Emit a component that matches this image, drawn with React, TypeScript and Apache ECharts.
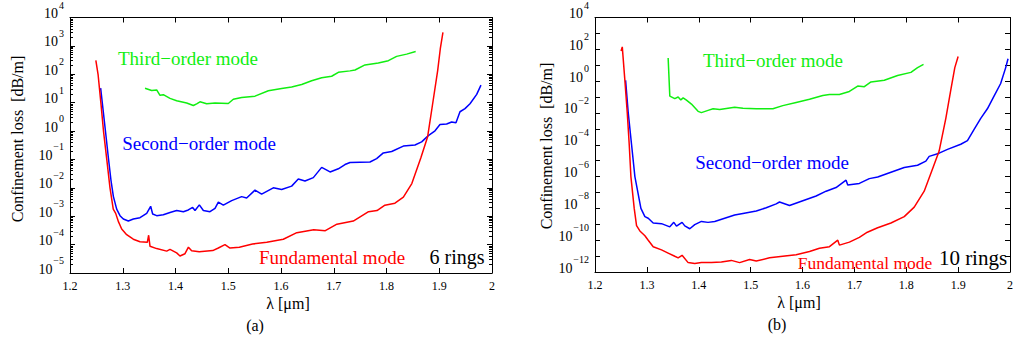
import React, { useEffect, useRef } from 'react';
import * as echarts from 'echarts';

// ---------- Panel (a): 6 rings ----------
const aFundLambda = [1.249, 1.2532, 1.2585, 1.2635, 1.2697, 1.2758, 1.282, 1.2866, 1.292, 1.298, 1.3074, 1.32, 1.3327, 1.3466, 1.3491, 1.3517, 1.3643, 1.3833, 1.3896, 1.4022, 1.4085, 1.418, 1.4245, 1.4306, 1.445, 1.4706, 1.4812, 1.4938, 1.5033, 1.521, 1.546, 1.573, 1.6044, 1.63, 1.662, 1.684, 1.706, 1.737, 1.766, 1.782, 1.797, 1.816, 1.832, 1.848, 1.865, 1.878, 1.887, 1.897, 1.902, 1.907];
const aFundLog = [2.49, 2.0, 1.0, 0.0, -1.0, -2.0, -2.75, -2.9, -3.2, -3.45, -3.65, -3.81, -3.9, -3.92, -3.67, -4.06, -4.14, -4.23, -4.17, -4.29, -4.4, -4.32, -4.09, -4.22, -4.25, -4.21, -4.12, -4.0, -4.12, -4.09, -3.98, -3.92, -3.81, -3.58, -3.48, -3.51, -3.28, -3.17, -2.84, -2.8, -2.61, -2.54, -2.33, -1.85, -0.95, -0.2, 0.9, 2.13, 2.9, 3.48];

const aSecLambda = [1.2581, 1.2633, 1.2684, 1.2728, 1.2778, 1.2822, 1.2885, 1.2948, 1.3011, 1.3106, 1.3201, 1.3327, 1.3454, 1.3529, 1.3567, 1.3643, 1.3769, 1.3896, 1.4022, 1.4149, 1.4243, 1.4325, 1.437, 1.4452, 1.4528, 1.4654, 1.4749, 1.4812, 1.4907, 1.5065, 1.5254, 1.5349, 1.5507, 1.5633, 1.5854, 1.6012, 1.6202, 1.6328, 1.6455, 1.6613, 1.6771, 1.693, 1.7087, 1.7213, 1.7308, 1.7687, 1.7813, 1.794, 1.8098, 1.8319, 1.854, 1.8666, 1.8793, 1.892, 1.9014, 1.914, 1.9235, 1.9317, 1.9393, 1.9488, 1.9583, 1.971, 1.9791];
const aSecLog = [1.51, 0.65, -0.2, -0.95, -1.75, -2.3, -2.75, -2.98, -3.1, -3.17, -3.1, -3.05, -2.9, -2.65, -2.92, -2.98, -2.95, -2.87, -2.8, -2.84, -2.78, -2.69, -2.8, -2.6, -2.8, -2.84, -2.72, -2.5, -2.61, -2.45, -2.31, -2.36, -2.08, -2.22, -2.0, -2.06, -1.94, -1.69, -1.76, -1.64, -1.28, -1.44, -1.33, -1.18, -1.11, -1.09, -0.97, -0.77, -0.72, -0.53, -0.49, -0.38, -0.16, 0.01, 0.23, 0.25, 0.32, 0.29, 0.68, 0.79, 0.96, 1.29, 1.62];

const aThirdLambda = [1.3422, 1.3548, 1.3643, 1.3706, 1.3769, 1.3896, 1.4022, 1.4212, 1.4338, 1.4401, 1.4464, 1.4591, 1.4749, 1.5001, 1.5096, 1.5254, 1.5507, 1.576, 1.6012, 1.6202, 1.6392, 1.6581, 1.6771, 1.696, 1.7087, 1.7308, 1.7403, 1.7592, 1.7845, 1.8035, 1.8192, 1.8382, 1.8553];
const aThirdLog = [1.51, 1.43, 1.45, 1.26, 1.28, 1.15, 1.07, 0.99, 0.9, 0.96, 1.03, 0.96, 0.99, 0.97, 1.12, 1.18, 1.23, 1.42, 1.5, 1.55, 1.64, 1.77, 1.88, 1.93, 2.07, 2.12, 2.15, 2.33, 2.4, 2.48, 2.63, 2.71, 2.8];

// ---------- Panel (b): 10 rings ----------
const bFundLambda = [1.2502, 1.2526, 1.2577, 1.2622, 1.266, 1.2692, 1.2756, 1.2801, 1.2865, 1.2962, 1.3026, 1.3122, 1.3282, 1.341, 1.3538, 1.3603, 1.3679, 1.3795, 1.3923, 1.4051, 1.4244, 1.4436, 1.4628, 1.4788, 1.498, 1.5109, 1.5365, 1.562, 1.5878, 1.6135, 1.6327, 1.652, 1.668, 1.6712, 1.6904, 1.7096, 1.725, 1.7449, 1.7705, 1.7961, 1.8154, 1.8346, 1.8506, 1.8634, 1.8763, 1.8859, 1.8936, 1.9];
const bFundLog = [1.9, 2.15, 0.0, -2.0, -4.0, -6.0, -8.0, -9.08, -9.42, -9.72, -10.0, -10.41, -10.61, -10.81, -11.01, -11.11, -10.95, -11.41, -11.47, -11.41, -11.41, -11.37, -11.27, -11.41, -11.21, -11.31, -11.11, -11.01, -10.91, -10.71, -10.51, -10.41, -10.0, -10.31, -10.12, -9.82, -9.5, -9.22, -8.92, -8.52, -7.92, -6.92, -5.53, -4.4, -2.34, -0.55, 0.85, 1.55];

const bSecLambda = [1.259, 1.2641, 1.2705, 1.2769, 1.2885, 1.2962, 1.3026, 1.3122, 1.3282, 1.3442, 1.3519, 1.3571, 1.3679, 1.3731, 1.3827, 1.3923, 1.4051, 1.4179, 1.4308, 1.45, 1.4692, 1.4852, 1.5109, 1.5301, 1.5493, 1.5557, 1.575, 1.6006, 1.6263, 1.6455, 1.6647, 1.684, 1.6872, 1.7096, 1.7288, 1.7449, 1.7705, 1.7961, 1.8218, 1.8378, 1.8442, 1.8634, 1.8795, 1.9051, 1.918, 1.9308, 1.9436, 1.9564, 1.9692, 1.982, 1.9917, 1.9962];
const bSecLog = [0.05, -2.0, -4.0, -6.0, -8.0, -8.52, -8.62, -8.92, -8.96, -9.16, -8.88, -9.12, -8.88, -9.1, -9.28, -9.02, -8.82, -8.88, -8.82, -8.62, -8.42, -8.32, -8.16, -7.96, -7.72, -7.6, -7.82, -7.52, -7.22, -6.92, -6.69, -6.23, -6.53, -6.43, -6.13, -6.03, -5.73, -5.43, -5.29, -5.03, -4.73, -4.53, -4.29, -3.97, -3.74, -3.04, -2.34, -1.74, -0.94, -0.15, 0.85, 1.41];

const bThirdLambda = [1.341, 1.3442, 1.3538, 1.3603, 1.3654, 1.3699, 1.3763, 1.3859, 1.3987, 1.4051, 1.4179, 1.4276, 1.4404, 1.4564, 1.4692, 1.4852, 1.5109, 1.5429, 1.562, 1.5878, 1.6135, 1.6391, 1.652, 1.6711, 1.6904, 1.7064, 1.7192, 1.732, 1.7577, 1.7833, 1.809, 1.8218, 1.8333];
const bThirdLog = [1.45, -0.94, -1.1, -1.0, -1.18, -1.05, -1.2, -1.44, -1.9, -1.98, -1.84, -1.74, -1.78, -1.7, -1.64, -1.7, -1.74, -1.74, -1.54, -1.34, -1.14, -0.9, -0.84, -0.84, -0.65, -0.31, -0.35, -0.05, 0.05, 0.35, 0.55, 0.85, 1.05];

const modeNames = ['Fundamental mode', 'Second\u2212order mode', 'Third\u2212order mode'];
const modeColors = ['#ff0000', '#0000ff', '#11ee11'];
const panelNames = ['(a)', '(b)'];
const ringLabels = ['6 rings', '10 rings'];
const xAxisTitle = '\u03bb [\u03bcm]';
const yAxisTitle = 'Confinement loss  [dB/m]';

const FONT = "'Liberation Serif', serif";

const pairs = (xs: number[], ls: number[]) => xs.map((x, i) => [x, Math.pow(10, ls[i])]);

const supLabel = (v: number, onlyEven: boolean) => {
  const e = Math.round(Math.log10(v));
  if (onlyEven && e % 2 !== 0) return '';
  const es = e < 0 ? '\u2212' + Math.abs(e) : String(e);
  return `{b|10}{s|${es}}`;
};

const rich = {
  b: { fontFamily: FONT, fontSize: 14, color: '#000', lineHeight: 14 },
  s: { fontFamily: FONT, fontSize: 10, color: '#000', lineHeight: 10, padding: [0, 0, 17, 1] },
};

const black = { color: '#000', width: 1 };

function xAx(grid: number, pos: 'bottom' | 'top') {
  return {
    gridIndex: grid,
    type: 'value',
    min: 1.2,
    max: 2.0,
    interval: 0.1,
    position: pos,
    axisLine: { show: true, onZero: false, lineStyle: black },
    axisTick: { show: true, inside: true, length: 5, lineStyle: black },
    axisLabel: {
      show: pos === 'bottom',
      fontFamily: FONT,
      fontSize: 12,
      color: '#000',
      margin: 7,
      formatter: (v: number) => String(Number(v.toFixed(1))),
    },
    splitLine: { show: false },
  };
}

function yAx(grid: number, pos: 'left' | 'right', min: number, max: number, onlyEven: boolean) {
  return {
    gridIndex: grid,
    type: 'log',
    logBase: 10,
    min,
    max,
    interval: onlyEven ? 1 : undefined,
    position: pos,
    axisLine: { show: true, onZero: false, lineStyle: black },
    axisTick: { show: true, inside: true, length: 5, lineStyle: black },
    minorTick: { show: !onlyEven, splitNumber: 9, length: 3, lineStyle: black },
    axisLabel: {
      show: pos === 'left',
      margin: 6,
      verticalAlign: 'middle',
      align: 'right',
      padding: [0, 0, 8, 0],
      showMinLabel: true,
      showMaxLabel: true,
      hideOverlap: false,
      formatter: (v: number) => supLabel(v, onlyEven),
      rich,
    },
    splitLine: { show: false },
    minorSplitLine: { show: false },
  };
}

function line(name: string, color: string, data: number[][], xi: number, yi: number) {
  return {
    name,
    type: 'line',
    xAxisIndex: xi,
    yAxisIndex: yi,
    data,
    showSymbol: false,
    symbol: 'none',
    lineStyle: { color, width: 1.5 },
    itemStyle: { color },
  };
}

function txt(text: string, x: number, y: number, size: number, color: string, rotation = 0) {
  return {
    type: 'text',
    x,
    y,
    rotation,
    style: {
      text,
      fill: color,
      font: `${size}px ${FONT}`,
      textAlign: 'center',
      textVerticalAlign: 'middle',
      align: 'center',
      verticalAlign: 'middle',
    },
    z: 10,
  };
}

export default function App() {
  const ref = useRef<HTMLDivElement>(null);
  useEffect(() => {
    if (!ref.current) return;
    const chart = echarts.init(ref.current, undefined, { renderer: 'svg' });
    const option: any = {
      animation: false,
      backgroundColor: '#fff',
      grid: [
        { left: 70, top: 4, width: 422, height: 269, show: false },
        { left: 595, top: 4, width: 416, height: 268, show: false },
      ],
      xAxis: [xAx(0, 'bottom'), xAx(0, 'top'), xAx(1, 'bottom'), xAx(1, 'top')],
      yAxis: [
        yAx(0, 'left', 1e-5, 1e4, false),
        yAx(0, 'right', 1e-5, 1e4, false),
        yAx(1, 'left', 1e-12, 1e4, true),
        yAx(1, 'right', 1e-12, 1e4, true),
      ],
      series: [
        line(modeNames[2], modeColors[2], pairs(aThirdLambda, aThirdLog), 0, 0),
        line(modeNames[1], modeColors[1], pairs(aSecLambda, aSecLog), 0, 0),
        line(modeNames[0], modeColors[0], pairs(aFundLambda, aFundLog), 0, 0),
        line(modeNames[2], modeColors[2], pairs(bThirdLambda, bThirdLog), 2, 2),
        line(modeNames[1], modeColors[1], pairs(bSecLambda, bSecLog), 2, 2),
        line(modeNames[0], modeColors[0], pairs(bFundLambda, bFundLog), 2, 2),
      ],
      graphic: [
        txt(modeNames[2], 188, 58, 19, modeColors[2]),
        txt(modeNames[1], 199, 143, 19, modeColors[1]),
        txt(modeNames[0], 332, 257, 19, modeColors[0]),
        txt(ringLabels[0], 457, 257, 20, '#000'),
        txt(modeNames[2], 773, 60, 19, modeColors[2]),
        txt(modeNames[1], 772, 162, 19, modeColors[1]),
        txt(modeNames[0], 865, 263, 17.5, modeColors[0]),
        txt(ringLabels[1], 973, 258, 21, '#000'),
        txt(xAxisTitle, 288, 303, 16, '#000'),
        txt(xAxisTitle, 799, 302, 16, '#000'),
        txt(panelNames[0], 255, 325, 16, '#000'),
        txt(panelNames[1], 777, 324, 16, '#000'),
        txt(yAxisTitle, 17, 139, 16, '#000', Math.PI / 2),
        txt(yAxisTitle, 546, 146, 16, '#000', Math.PI / 2),
      ],
    };
    chart.setOption(option);
    return () => chart.dispose();
  }, []);
  return (
    <div
      ref={ref}
      style={{ position: 'absolute', left: 0, top: 0, width: 1016, height: 343, background: '#fff' }}
    />
  );
}
